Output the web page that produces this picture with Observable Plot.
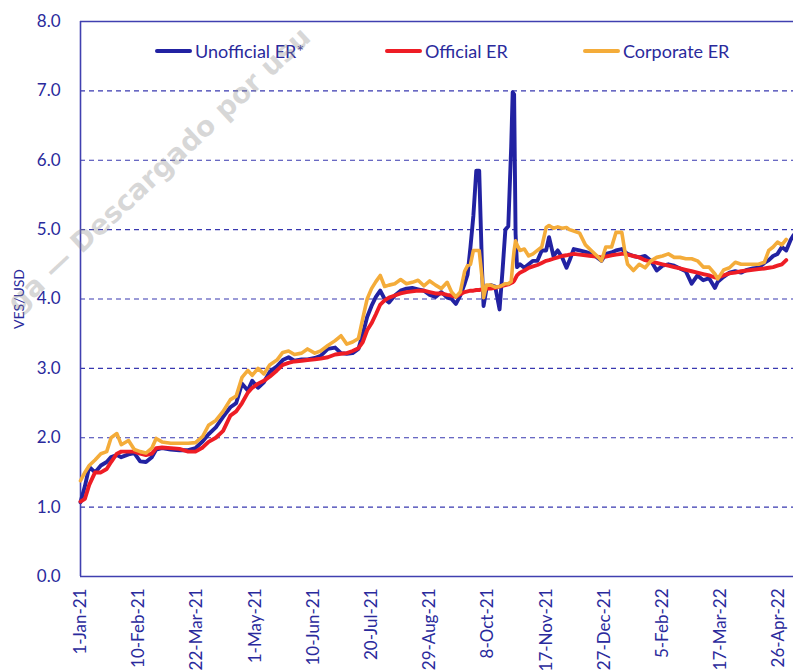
<!DOCTYPE html>
<html>
<head>
<meta charset="utf-8">
<script src="https://cdn.jsdelivr.net/npm/d3@7"></script>
<script src="https://cdn.jsdelivr.net/npm/@observablehq/plot@0.6"></script>
<style>
  body { margin: 0; background: #fff; }
  #wrap { position: relative; width: 793px; height: 672px; overflow: hidden; font-family: Lato, "Open Sans", sans-serif; }
  #wm { position: absolute; left: 2px; top: 296px; transform-origin: 0 0; transform: rotate(-43deg);
        font: bold 28px "DejaVu Sans", sans-serif; line-height: 30px; color: rgba(140,140,140,0.34); white-space: nowrap; pointer-events: none; }
  #legend { position: absolute; top: 40px; left: 0; width: 793px; height: 22px; font-size: 18px; color: #2a2a9c; }
  .item { position: absolute; top: 0; display: flex; align-items: center; height: 22px; }
  .sw { display: inline-block; width: 37px; height: 4px; margin-right: 3px; border-radius: 2px; }
  svg g[aria-label="y-axis label"] text { font-size: 14px; }
</style>
</head>
<body>
<div id="wrap">
  <div id="chart"></div>
  <div id="legend"></div>
  <div id="wm">ga — Descargado por usu</div>
</div>
<script>
// Days since 1-Jan-2021 of each observation
const day = [0,3,6,10,14,18,21,25,28,33,37,41,45,49,52,56,62,68,74,79,84,88,93,98,103,107,111,115,118,122,126,130,135,139,143,147,152,156,161,165,170,175,179,183,187,191,194,197,200,203,206,209,212,216,220,224,228,232,236,240,244,248,252,255,258,261,264,266,268,270,272,274,276,277,279,282,285,288,290,292,294,296,297,298,299,300,302,305,308,311,314,317,320,322,325,328,331,334,336,339,343,347,351,355,358,361,365,368,372,374,376,380,384,388,392,396,400,404,408,412,416,420,424,428,432,436,438,442,446,450,454,458,462,466,470,473,476,479,482,485,488,490];

const unofficial = [1.07,1.30,1.58,1.50,1.60,1.65,1.72,1.75,1.72,1.76,1.78,1.66,1.65,1.72,1.83,1.85,1.83,1.82,1.82,1.85,1.95,2.05,2.15,2.30,2.44,2.50,2.78,2.68,2.82,2.72,2.80,2.95,3.03,3.12,3.16,3.11,3.13,3.13,3.15,3.18,3.28,3.30,3.22,3.21,3.22,3.28,3.50,3.74,3.90,4.03,4.12,4.00,3.95,4.05,4.12,4.15,4.16,4.14,4.12,4.06,4.03,4.10,4.02,4.00,3.93,4.05,4.22,4.35,4.75,5.20,5.85,5.85,4.40,3.90,4.15,4.20,4.18,3.85,4.40,5.00,5.05,6.20,6.98,6.95,4.94,4.46,4.50,4.45,4.50,4.55,4.55,4.70,4.70,4.89,4.62,4.70,4.60,4.45,4.55,4.72,4.70,4.68,4.65,4.60,4.55,4.65,4.67,4.70,4.72,4.68,4.65,4.62,4.60,4.62,4.55,4.41,4.48,4.50,4.48,4.44,4.40,4.22,4.34,4.27,4.30,4.16,4.25,4.32,4.38,4.40,4.38,4.42,4.44,4.45,4.52,4.56,4.62,4.65,4.75,4.70,4.85,4.92];

const official = [1.08,1.12,1.32,1.50,1.50,1.55,1.65,1.77,1.80,1.80,1.80,1.77,1.75,1.77,1.85,1.86,1.85,1.84,1.80,1.80,1.86,1.94,2.00,2.10,2.32,2.38,2.50,2.65,2.72,2.78,2.82,2.88,2.97,3.05,3.08,3.10,3.11,3.12,3.13,3.14,3.16,3.20,3.21,3.22,3.25,3.29,3.38,3.55,3.65,3.78,3.92,3.98,4.02,4.05,4.08,4.10,4.11,4.12,4.12,4.10,4.08,4.08,4.06,4.05,4.03,4.07,4.10,4.11,4.12,4.12,4.13,4.13,4.14,4.14,4.15,4.15,4.16,4.18,4.19,4.20,4.21,4.23,4.24,4.26,4.30,4.34,4.38,4.41,4.45,4.47,4.49,4.52,4.55,4.56,4.58,4.60,4.62,4.63,4.64,4.65,4.64,4.63,4.62,4.61,4.60,4.61,4.63,4.64,4.65,4.65,4.64,4.62,4.60,4.56,4.54,4.52,4.50,4.48,4.46,4.44,4.42,4.40,4.38,4.36,4.34,4.31,4.31,4.34,4.37,4.38,4.40,4.41,4.42,4.43,4.44,4.45,4.46,4.48,4.50,4.56,null,null];

const corporate = [1.38,1.50,1.60,1.68,1.77,1.80,2.00,2.06,1.90,1.96,1.83,1.80,1.78,1.85,1.99,1.94,1.92,1.92,1.92,1.93,2.02,2.18,2.25,2.38,2.55,2.60,2.87,2.97,2.90,3.00,2.92,3.05,3.12,3.23,3.25,3.20,3.22,3.28,3.22,3.25,3.33,3.40,3.47,3.35,3.38,3.43,3.72,4.00,4.15,4.25,4.34,4.18,4.20,4.22,4.28,4.22,4.24,4.27,4.19,4.26,4.20,4.15,4.24,4.10,4.03,4.10,4.40,4.48,4.50,4.70,4.70,4.70,4.30,4.02,4.20,4.20,4.17,4.18,4.20,4.22,4.22,4.25,4.50,4.70,4.84,4.78,4.70,4.72,4.62,4.65,4.70,4.75,5.03,5.06,5.02,5.04,5.02,5.03,5.00,4.98,4.95,4.78,4.70,4.62,4.55,4.75,4.75,4.96,4.96,4.70,4.50,4.41,4.50,4.45,4.55,4.60,4.62,4.65,4.60,4.60,4.58,4.58,4.55,4.46,4.46,4.36,4.29,4.42,4.45,4.53,4.50,4.50,4.50,4.50,4.53,4.70,4.75,4.82,4.78,4.86,null,null];

const seriesNames = ["Unofficial ER*", "Official ER", "Corporate ER"];
const seriesColors = ["#2222a2", "#ee1d25", "#f4ac3a"];

const tickDays = [0,40,80,120,160,200,240,280,320,360,400,440,480];
const tickLabels = ["1-Jan-21","10-Feb-21","22-Mar-21","1-May-21","10-Jun-21","20-Jul-21","29-Aug-21","8-Oct-21","17-Nov-21","27-Dec-21","5-Feb-22","17-Mar-22","26-Apr-22"];
const yTicks = [0,1,2,3,4,5,6,7,8];
const gridValues = [1,2,3,4,5,6,7];

const start = new Date(Date.UTC(2021, 0, 1));
const end = new Date(Date.UTC(2022, 4, 6));
const toDate = d => d3.utcDay.offset(start, d);

const rows = [];
[unofficial, official, corporate].forEach((vals, s) => {
  day.forEach((d, i) => rows.push({series: seriesNames[s], date: toDate(d), value: vals[i]}));
});
const tickDates = tickDays.map(toDate);
const labelOf = new Map(tickDates.map((d, i) => [+d, tickLabels[i]]));

const ink = "#2a2a9c";
const chart = Plot.plot({
  width: 793,
  height: 672,
  marginTop: 21,
  marginBottom: 96,
  marginLeft: 80,
  marginRight: 0,
  style: {fontFamily: "Lato, 'Open Sans', sans-serif", fontSize: "16px", color: ink, background: "transparent"},
  x: {type: "utc", domain: [start, end]},
  y: {domain: [0, 8]},
  marks: [
    Plot.ruleY(gridValues, {stroke: "#3838b0", strokeWidth: 1.2, strokeDasharray: "5,4"}),
    Plot.ruleY([0, 8], {stroke: "#4040b0", strokeWidth: 1.6}),
    Plot.ruleX([start], {stroke: "#4040b0", strokeWidth: 1.6}),
    ...seriesNames.map((name, s) => Plot.lineY(rows.filter(r => r.series === name), {
      x: "date", y: "value", stroke: seriesColors[s], strokeWidth: s === 2 ? 3.6 : 3.9,
      strokeLinejoin: "round", strokeLinecap: "round"
    })),
    Plot.axisX({ticks: tickDates, tickFormat: d => labelOf.get(+d), tickRotate: -90, tickSize: 0, tickPadding: 12, fontSize: 17, label: null}),
    Plot.axisY({ticks: yTicks, tickFormat: d3.format(".1f"), tickSize: 0, tickPadding: 20, fontSize: 17,
      label: "VES/USD", labelAnchor: "center", labelArrow: "none", labelOffset: 66})
  ]
});
document.getElementById("chart").appendChild(chart);

// Legend
const legendPos = [155, 385, 583];
const legend = document.getElementById("legend");
seriesNames.forEach((name, s) => {
  const item = document.createElement("div");
  item.className = "item";
  item.style.left = legendPos[s] + "px";
  const sw = document.createElement("span");
  sw.className = "sw";
  sw.style.background = seriesColors[s];
  const tx = document.createElement("span");
  tx.textContent = name;
  item.appendChild(sw);
  item.appendChild(tx);
  legend.appendChild(item);
});
</script>
</body>
</html>
